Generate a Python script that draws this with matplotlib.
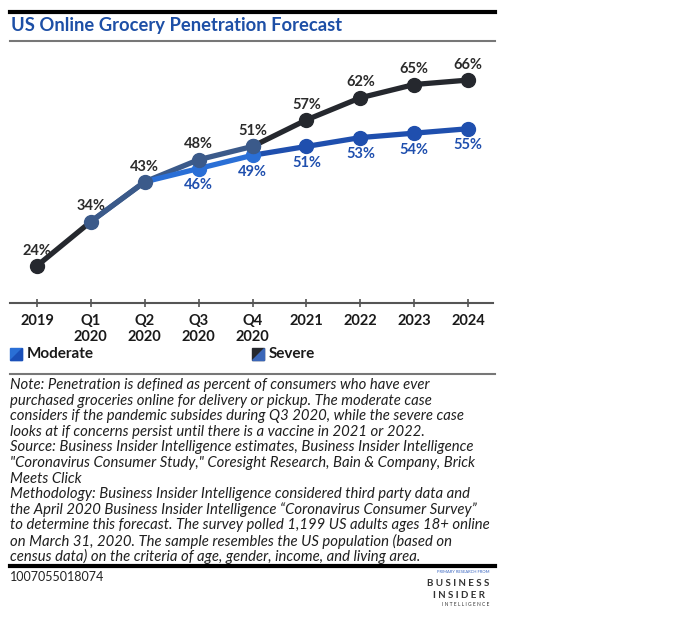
import matplotlib.pyplot as plt
from matplotlib.patches import Polygon, Rectangle

categories = ["2019", "Q1\n2020", "Q2\n2020", "Q3\n2020", "Q4\n2020",
              "2021", "2022", "2023", "2024"]
severe = [24, 34, 43, 48, 51, 57, 62, 65, 66]
moderate = [None, None, 43, 46, 49, 51, 53, 54, 55]

title = "US Online Grocery Penetration Forecast"
note_lines = [
    "Note: Penetration is defined as percent of consumers who have ever",
    "purchased groceries online for delivery or pickup. The moderate case",
    "considers if the pandemic subsides during Q3 2020, while the severe case",
    "looks at if concerns persist until there is a vaccine in 2021 or 2022.",
    "Source: Business Insider Intelligence estimates, Business Insider Intelligence",
    "\"Coronavirus Consumer Study,\" Coresight Research, Bain & Company, Brick",
    "Meets Click",
    "Methodology: Business Insider Intelligence considered third party data and",
    "the April 2020 Business Insider Intelligence \u201cCoronavirus Consumer Survey\u201d",
    "to determine this forecast. The survey polled 1,199 US adults ages 18+ online",
    "on March 31, 2020. The sample resembles the US population (based on",
    "census data) on the criteria of age, gender, income, and living area.",
]
chart_id = "1007055018074"

DARK = "#25282e"
SLATE = "#3b5a8a"
BRIGHT = "#2a6fd6"
BLUE = "#1f4fae"
TITLE_BLUE = "#1d4fa6"

plt.rcParams["font.family"] = ["Lato", "DejaVu Sans"]

W, H = 700, 621
fig = plt.figure(figsize=(W / 100, H / 100), dpi=100)


def fx(px):
    return px / W


def fy(py):
    return 1 - py / H


def hrule(y, color, lw, x0=10, x1=495):
    fig.add_artist(plt.Line2D([fx(x0), fx(x1)], [fy(y), fy(y)],
                              color=color, lw=lw, transform=fig.transFigure))


ax = fig.add_axes([fx(10), fy(303), fx(493) - fx(10), fy(50) - fy(303)])
x = list(range(len(categories)))

# severe: dark line, slate where the two scenarios overlap / diverge early
sev_colors = [DARK, SLATE, SLATE, SLATE, DARK, DARK, DARK, DARK]
for i, c in enumerate(sev_colors):
    ax.plot(x[i:i + 2], severe[i:i + 2], color=c, lw=3.8,
            solid_capstyle="round", zorder=2)

mod_colors = {2: BRIGHT, 3: BRIGHT, 4: BLUE, 5: BLUE, 6: BLUE, 7: BLUE}
for i, c in mod_colors.items():
    ax.plot(x[i:i + 2], moderate[i:i + 2], color=c, lw=3.8,
            solid_capstyle="round", zorder=3)

# shared segment redrawn on top
ax.plot(x[1:3], severe[1:3], color=SLATE, lw=3.8, zorder=4)

sev_mcolors = [DARK, SLATE, SLATE, SLATE, SLATE, DARK, DARK, DARK, DARK]
for xi, yi, c in zip(x, severe, sev_mcolors):
    ax.plot(xi, yi, "o", color=c, ms=10, zorder=5)
mod_mcolors = [None, None, SLATE, BRIGHT, BRIGHT, BLUE, BLUE, BLUE, BLUE]
for xi, yi, c in zip(x, moderate, mod_mcolors):
    if yi is not None and xi > 2:
        ax.plot(xi, yi, "o", color=c, ms=10, zorder=4)
ax.plot(x[4], severe[4], "o", color=SLATE, ms=10, zorder=6)

for xi, yi in zip(x, severe):
    ax.annotate(f"{yi}%", (xi, yi), xytext=(0, 11), textcoords="offset points",
                ha="center", va="center", fontsize=10.5, fontweight="bold",
                color="#2b2b2b")
for xi, yi in zip(x, moderate):
    if yi is not None and xi > 2:
        ax.annotate(f"{yi}%", (xi, yi), xytext=(0, -12),
                    textcoords="offset points", ha="center", va="center",
                    fontsize=10.5, fontweight="bold", color=BLUE)

ax.set_xlim(-0.5, 8.46)
ax.set_ylim(15.6, 72.8)
ax.set_yticks([])
ax.set_xticks(x)
ax.set_xticklabels(categories, fontsize=10.5, fontweight="bold",
                   color="#1a1a1a", linespacing=1.2)
ax.tick_params(axis="x", direction="inout", length=6, width=1.2,
               color="#555555", pad=5)
for s in ["top", "right", "left"]:
    ax.spines[s].set_visible(False)
ax.spines["bottom"].set_color("#555555")
ax.spines["bottom"].set_linewidth(1.5)
ax.patch.set_alpha(0)

# header
hrule(12, "black", 3)
fig.text(fx(11), fy(25), title, fontsize=13.2, fontweight="bold",
         color=TITLE_BLUE, va="center", ha="left")
hrule(41, "#777777", 1.5)


def legend_box(x0, y0, base, tri):
    fig.add_artist(Rectangle((fx(x0), fy(y0 + 12)), fx(12), 12 / H,
                             color=base, transform=fig.transFigure))
    fig.add_artist(Polygon([(fx(x0 + 12), fy(y0)), (fx(x0 + 12), fy(y0 + 12)),
                            (fx(x0), fy(y0 + 12))], color=tri,
                           transform=fig.transFigure))


legend_box(10, 348, BRIGHT, "#1a4fb8")
fig.text(fx(27), fy(354), "Moderate", fontsize=11, fontweight="bold",
         va="center", color="#1a1a1a")
legend_box(252, 348, DARK, "#3a66b8")
fig.text(fx(269), fy(354), "Severe", fontsize=11, fontweight="bold",
         va="center", color="#1a1a1a")
hrule(374, "#777777", 1.5)

for i, line in enumerate(note_lines):
    fig.text(fx(10), fy(385 + i * 15.6), line, fontsize=10.7, style="italic",
             va="center", color="#1f1f1f")

hrule(566, "black", 3)
fig.text(fx(10), fy(577), chart_id, fontsize=9, va="center", color="#222222")

# logo
fig.text(fx(489), fy(572), "PRIMARY RESEARCH FROM", fontsize=3, ha="right",
         va="center", color="#3a66c0")
fig.text(fx(489), fy(583), "B U S I N E S S", fontsize=7, fontweight="bold",
         ha="right", va="center", color="#333333")
fig.text(fx(485), fy(595), "I N S I D E R", fontsize=7, fontweight="bold",
         ha="right", va="center", color="#333333")
fig.text(fx(489), fy(604), "I N T E L L I G E N C E", fontsize=3.5,
         ha="right", va="center", color="#333333")

fig.savefig("out.png", dpi=100)
